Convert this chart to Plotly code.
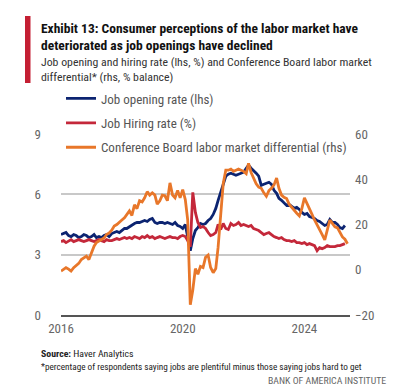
import pandas as pd
import plotly.graph_objects as go

# ---------------- data (monthly) ----------------
start_month = "2016-01-01"

job_opening_rate = [
    # 2016
    4.0, 4.05, 4.1, 3.95, 3.9, 4.0, 3.95, 3.85, 3.9, 4.0, 3.95, 3.85,
    # 2017
    3.9, 4.0, 3.85, 3.9, 3.85, 3.95, 4.0, 3.9, 4.05, 4.1, 4.15, 4.1,
    # 2018
    4.2, 4.3, 4.3, 4.4, 4.45, 4.55, 4.6, 4.6, 4.65, 4.7, 4.65, 4.75,
    # 2019
    4.8, 4.6, 4.55, 4.6, 4.6, 4.55, 4.6, 4.55, 4.5, 4.6, 4.45, 4.4,
    # 2020
    4.3, 4.5, 3.9, 3.2, 3.8, 4.2, 4.35, 4.55, 4.5, 4.55, 4.7, 4.8,
    # 2021
    5.0, 5.3, 5.7, 6.1, 6.5, 6.9, 7.0, 7.05, 7.0, 6.95, 7.0, 7.05,
    # 2022
    7.1, 7.3, 7.45, 7.3, 7.2, 7.05, 6.9, 6.45, 6.5, 6.55, 6.6, 6.5,
    # 2023
    6.2, 6.05, 5.8, 5.7, 5.55, 5.45, 5.5, 5.4, 5.3, 5.35, 5.25, 5.1,
    # 2024
    5.0, 5.05, 4.9, 4.85, 4.8, 4.7, 4.65, 4.55, 4.45, 4.5, 4.75, 4.6,
    # 2025
    4.6, 4.5, 4.35, 4.3, 4.45,
]

job_hiring_rate = [
    # 2016
    3.65, 3.7, 3.6, 3.7, 3.75, 3.65, 3.7, 3.75, 3.7, 3.65, 3.7, 3.75,
    # 2017
    3.7, 3.65, 3.7, 3.75, 3.7, 3.65, 3.75, 3.7, 3.7, 3.75, 3.8, 3.75,
    # 2018
    3.8, 3.85, 3.8, 3.85, 3.8, 3.9, 3.85, 3.8, 3.9, 3.85, 3.95, 3.85,
    # 2019
    3.9, 3.8, 3.85, 3.9, 3.85, 3.8, 3.85, 3.9, 3.85, 3.85, 3.8, 3.9,
    # 2020
    3.95, 3.9, 3.7, 3.4, 6.1, 5.1, 4.6, 4.35, 4.4, 4.3, 4.1, 3.95,
    # 2021
    4.0, 4.1, 4.5, 4.25, 4.55, 4.3, 4.25, 4.55, 4.45, 4.5, 4.6, 4.45,
    # 2022
    4.5, 4.45, 4.4, 4.45, 4.3, 4.25, 4.2, 4.1, 4.0, 4.05, 4.1, 4.0,
    # 2023
    3.9, 3.85, 3.8, 3.85, 3.75, 3.7, 3.7, 3.65, 3.7, 3.6, 3.6, 3.55,
    # 2024
    3.6, 3.5, 3.55, 3.5, 3.45, 3.2, 3.35, 3.3, 3.35, 3.45, 3.4, 3.4,
    # 2025
    3.4, 3.45, 3.45, 3.5, 3.55,
]

labor_differential = [
    # 2016
    -0.6, 0.2, 0.9, 0.3, -0.6, 0.9, 1.8, 2.8, 4.5, 5.3, 6.0, 4.5,
    # 2017
    7.5, 10.4, 12.0, 12.7, 13.4, 14.0, 15.6, 16.3, 17.5, 19.3, 20.0, 20.8,
    # 2018
    22.0, 23.0, 24.4, 26.0, 24.0, 28.7, 27.0, 30.5, 30.0, 31.8, 34.5, 33.0,
    # 2019
    34.0, 33.0, 29.0, 30.5, 33.0, 32.7, 30.5, 38.4, 33.0, 31.8, 35.0, 31.8,
    # 2020
    35.4, 31.0, 22.0, -15.5, -9.0, 0.5, -2.0, 1.5, 1.0, 5.5, 6.5, 1.0,
    # 2021
    -1.3, 0.5, 10.0, 24.0, 38.0, 44.0, 44.0, 44.5, 43.5, 44.0, 44.5, 44.0,
    # 2022
    43.5, 42.5, 47.0, 43.0, 40.5, 38.0, 36.5, 36.0, 34.0, 32.5, 35.0, 36.0,
    # 2023
    37.5, 40.5, 36.0, 33.0, 32.0, 31.5, 29.0, 27.5, 26.5, 25.0, 23.8, 27.0,
    # 2024
    31.8, 29.5, 27.4, 24.5, 22.0, 19.5, 17.7, 15.5, 13.2, 17.5, 22.0, 20.5,
    # 2025
    19.0, 18.5, 16.5, 14.5, 13.5, 11.5,
]

series_names = [
    "Job opening rate (lhs)",
    "Job Hiring rate (%)",
    "Conference Board labor market differential (rhs)",
]
x_tick_labels = ["2016", "2020", "2024"]
left_ticks = [0, 3, 6, 9]
right_ticks = [-20, 0, 20, 40, 60]

# ---------------- styling ----------------
BLUE = "#0c2471"
RED = "#c4283a"
ORANGE = "#e8772a"
GREY_TXT = "#666666"
FONT = "Liberation Sans Narrow, Roboto Condensed, Arial Narrow, sans-serif"

W, H = 402, 388
L, R, T, B = 53, 342, 126, 307  # plot area in pixels


def px(x):
    return (x - L) / (R - L)


def py(y):
    return (B - y) / (B - T)


dates_a = pd.date_range(start_month, periods=len(job_opening_rate), freq="MS")
dates_b = pd.date_range(start_month, periods=len(job_hiring_rate), freq="MS")
dates_c = pd.date_range(start_month, periods=len(labor_differential), freq="MS")

fig = go.Figure()
fig.add_trace(go.Scatter(x=dates_a, y=job_opening_rate, name=series_names[0],
                         mode="lines", line=dict(color=BLUE, width=2.8),
                         legendgroup="a"))
fig.add_trace(go.Scatter(x=dates_b, y=job_hiring_rate, name=series_names[1],
                         mode="lines", line=dict(color=RED, width=2.8),
                         legendgroup="b"))
fig.add_trace(go.Scatter(x=dates_c, y=labor_differential, name=series_names[2],
                         mode="lines", line=dict(color=ORANGE, width=2.8),
                         yaxis="y2", legendgroup="c"))

fig.update_layout(
    width=W, height=H,
    margin=dict(l=L, r=W - R, t=T, b=H - B, pad=0),
    paper_bgcolor="white", plot_bgcolor="white",
    font=dict(family=FONT, size=13, color=GREY_TXT),
    showlegend=True,
    legend=dict(x=px(53), y=py(75.5), xanchor="left", yanchor="top",
                bgcolor="rgba(0,0,0,0)", font=dict(size=13, color="#555555"),
                tracegroupgap=4.5, itemwidth=30),
    xaxis=dict(type="date", range=["2016-01-01", "2025-07-01"],
               tickvals=[f"{t}-01-01" for t in x_tick_labels],
               ticktext=x_tick_labels, showgrid=False, zeroline=False,
               showline=True, linecolor="#555555", linewidth=2,
               ticks="", tickfont=dict(size=13, color=GREY_TXT)),
    yaxis=dict(range=[0, 9], tickvals=left_ticks, showgrid=True,
               gridcolor="#c8c8c8", gridwidth=1.5, zeroline=False,
               ticks="", tickfont=dict(size=13, color=GREY_TXT),
               ticklabelstandoff=19),
    yaxis2=dict(range=[-20, 60], tickvals=right_ticks, overlaying="y",
                side="right", showgrid=False, zeroline=False, ticks="",
                tickfont=dict(size=13, color=GREY_TXT), ticklabelstandoff=4),
)

# red accent bar
fig.add_shape(type="rect", xref="paper", yref="paper",
              x0=px(17), x1=px(22.5), y0=py(75), y1=py(8),
              fillcolor="#c41f33", line=dict(width=0))

texts = [
    (31, 20, "<b>Exhibit 13: Consumer perceptions of the labor market have</b>", 13.5, "#111111", "left"),
    (31, 37, "<b>deteriorated as job openings have declined</b>", 13.5, "#111111", "left"),
    (31, 54, "Job opening and hiring rate (lhs, %) and Conference Board labor market", 11.8, "#333333", "left"),
    (31, 69, "differential* (rhs, % balance)", 11.8, "#333333", "left"),
    (31, 345, "<b>Source:</b> Haver Analytics", 9.8, "#222222", "left"),
    (31, 358, "*percentage of respondents saying jobs are plentiful minus those saying jobs hard to get", 9.2, "#222222", "left"),
    (380, 372, "BANK OF AMERICA INSTITUTE", 9.8, "#666666", "right"),
]
for x, y, t, s, c, anc in texts:
    fig.add_annotation(x=px(x), y=py(y), xref="paper", yref="paper", text=t,
                       showarrow=False, xanchor=anc, yanchor="middle",
                       font=dict(size=s, color=c, family=FONT), align=anc)

fig.write_html("out.html")
